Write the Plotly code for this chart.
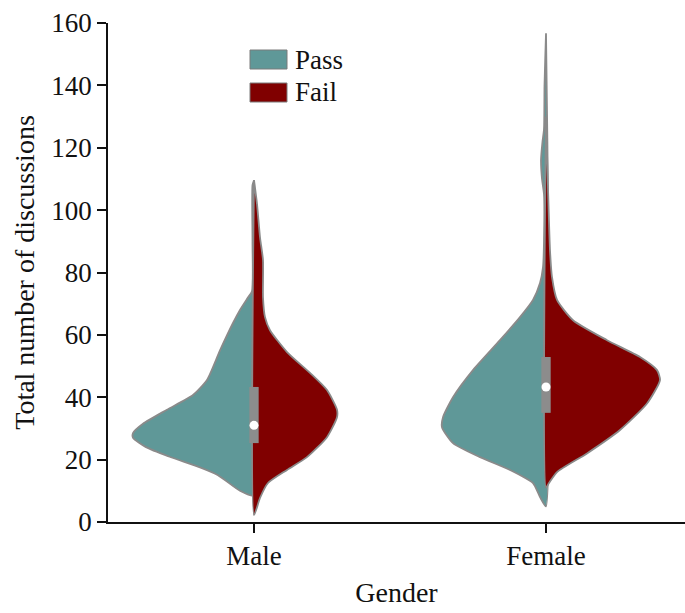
import plotly.graph_objects as go

# ---- data ----
categories = ["Male", "Female"]
groups = ["Pass", "Fail"]

# density profiles (half-width, arbitrary units) along y for each half violin
male_pass_y = [8.5, 10, 15, 17.5, 21, 24, 27, 28.5, 31.5, 36, 40.7, 45.5, 55, 63.8, 68, 72, 74, 90, 108, 109.6]
male_pass_d = [0, 14, 36, 54, 85, 108, 121, 121, 111, 87, 61, 47, 34, 21, 14, 6, 2, 1.5, 1.5, 0]

male_fail_y = [2.2, 7.7, 12.5, 16.7, 20.8, 27.2, 33.6, 36, 42.3, 47.8, 54.5, 61.5, 65.7, 72, 84, 91.3, 102, 109.6]
male_fail_d = [0, 6, 14, 33, 53, 73, 83, 83, 73, 56, 33, 16, 11, 9, 9, 6, 3, 0]

female_pass_y = [5, 8, 12.5, 16.7, 20.8, 25.3, 30.4, 33.6, 40, 48.7, 58.3, 65.7, 71.2, 76.6, 81.7, 90, 105, 110, 116, 122, 126, 140, 156.7]
female_pass_d = [0, 6, 13, 36, 66, 93, 104, 103, 93, 73, 46, 26, 13, 6, 3, 2, 2, 4, 5, 3.5, 2, 1.5, 0]

female_fail_y = [11, 12.5, 16, 22, 29.5, 38, 45.5, 48.7, 52.9, 58.3, 64.7, 71.2, 78.5, 87, 107, 130]
female_fail_d = [0, 3, 11, 41, 74, 101, 114, 111, 94, 61, 27, 11, 6, 4, 2, 0]

# inner box (quartiles) and medians
q1 = [25.3, 35.0]
q3 = [43.3, 52.9]
medians = [31.0, 43.3]

# ---- styling ----
PASS_COLOR = "#5F9898"
FAIL_COLOR = "#800000"
EDGE = "#8a8a8a"
FONT = "Liberation Serif"
DENS_SCALE = 1 / 292.0
BOX_HALF = 0.016

fig = go.Figure()

def half_violin(center, ys, ds, side, color, name):
    sign = -1 if side == "left" else 1
    xs = [center + sign * d * DENS_SCALE for d in ds]
    px = xs + [center, center]
    py = ys + [ys[-1], ys[0]]
    fig.add_trace(go.Scatter(
        x=px, y=py, mode="lines", fill="toself", fillcolor=color,
        line=dict(color=EDGE, width=1.8, shape="spline", smoothing=0.6),
        name=name, showlegend=False, hoverinfo="skip"))

profiles = {
    ("Male", "Pass"): (male_pass_y, male_pass_d),
    ("Male", "Fail"): (male_fail_y, male_fail_d),
    ("Female", "Pass"): (female_pass_y, female_pass_d),
    ("Female", "Fail"): (female_fail_y, female_fail_d),
}

for i, cat in enumerate(categories):
    py, pd_ = profiles[(cat, "Pass")]
    half_violin(i, py, pd_, "left", PASS_COLOR, "Pass")
    fy, fd = profiles[(cat, "Fail")]
    half_violin(i, fy, fd, "right", FAIL_COLOR, "Fail")
    # inner box
    fig.add_trace(go.Scatter(
        x=[i - BOX_HALF, i + BOX_HALF, i + BOX_HALF, i - BOX_HALF, i - BOX_HALF],
        y=[q1[i], q1[i], q3[i], q3[i], q1[i]],
        mode="lines", fill="toself", fillcolor="#8c8c8c",
        line=dict(color="#8c8c8c", width=0), showlegend=False, hoverinfo="skip"))

fig.add_trace(go.Scatter(
    x=list(range(len(categories))), y=medians, mode="markers",
    marker=dict(color="white", size=9, line=dict(width=0)),
    showlegend=False, hoverinfo="skip"))

# ---- legend drawn as shapes + text ----
W, H = 577.0, 499.0
def px2paper(x, y):
    return (x - 108) / W, (522 - y) / H

leg = [("Pass", PASS_COLOR, 50, 69), ("Fail", FAIL_COLOR, 83, 102)]
for label, col, ytop, ybot in leg:
    x0, y1 = px2paper(250, ytop)
    x1, y0 = px2paper(287, ybot)
    fig.add_shape(type="rect", xref="paper", yref="paper", x0=x0, x1=x1, y0=y0, y1=y1,
                  fillcolor=col, line=dict(color="#7a7a7a", width=1))
    tx, ty = px2paper(293, (ytop + ybot) / 2)
    fig.add_annotation(xref="paper", yref="paper", x=tx, y=ty, text=label,
                       showarrow=False, xanchor="left", yanchor="middle",
                       font=dict(family=FONT, size=27, color="#111"))

fig.update_layout(
    width=685, height=613,
    margin=dict(l=108, r=0, t=23, b=91),
    plot_bgcolor="white", paper_bgcolor="white",
    showlegend=False,
    font=dict(family=FONT, size=27, color="#111"),
    xaxis=dict(
        range=[-0.5, 1.476], tickvals=[0, 1], ticktext=categories,
        showline=True, linecolor="#111", linewidth=1.5,
        ticks="outside", ticklen=9, tickwidth=1.5, tickcolor="#111",
        showgrid=False, zeroline=False,
        title=dict(text="Gender", standoff=12, font=dict(family=FONT, size=28)),
        tickfont=dict(family=FONT, size=27),
    ),
    yaxis=dict(
        range=[0, 160], dtick=20,
        showline=True, linecolor="#111", linewidth=1.5,
        ticks="outside", ticklen=9, tickwidth=1.5, tickcolor="#111",
        showgrid=False, zeroline=False,
        title=dict(text="Total number of discussions", standoff=9, font=dict(family=FONT, size=28)),
        tickfont=dict(family=FONT, size=27),
    ),
)

fig.write_html("out.html")
